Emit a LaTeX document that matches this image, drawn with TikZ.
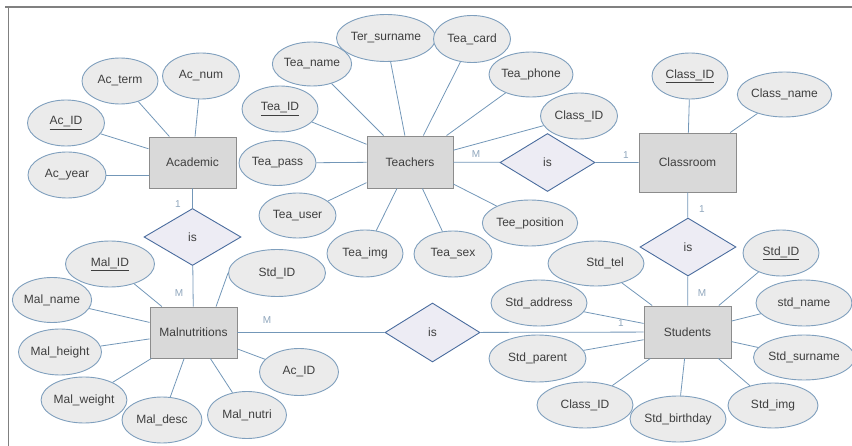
\documentclass[tikz,border=0pt]{standalone}
\usepackage{fontspec}
\setmainfont{Liberation Sans}
\usetikzlibrary{shapes.geometric}
\definecolor{attrfill}{HTML}{EBEBEB}
\definecolor{attrline}{HTML}{7F9FBD}
\definecolor{entfill}{HTML}{D9D9D9}
\definecolor{entline}{HTML}{8C8C8C}
\definecolor{relfill}{HTML}{EDECF4}
\definecolor{relline}{HTML}{4A6C9E}
\definecolor{linkcol}{HTML}{7397B8}
\definecolor{cardcol}{HTML}{8FA6BC}
\definecolor{txtgray}{HTML}{3F3F3F}
\begin{document}
\begin{tikzpicture}[x=1pt,y=-1pt,
   font=\fontsize{12}{14}\selectfont,text=txtgray,
   ent/.style={rectangle,draw=entline,fill=entfill,line width=0.9pt,inner sep=0pt},
   attr/.style={ellipse,draw=attrline,fill=attrfill,line width=0.9pt,inner sep=0pt},
   rel/.style={diamond,draw=relline,fill=relfill,line width=0.9pt,inner sep=0pt},
   link/.style={draw=linkcol,line width=0.8pt},
   card/.style={text=cardcol,font=\fontsize{10}{12}\selectfont,inner sep=0pt}]
   \useasboundingbox (0,0) rectangle (852,446);
   % 枠
   \draw[gray,line width=1.5pt] (5,7) -- (852,7);
   \draw[gray,line width=1.5pt] (8.5,7) -- (8.5,446);

   % 実体
   \node[ent,minimum width=87,minimum height=51] (acad) at (192.5,162.5) {Academic};
   \node[ent,minimum width=86,minimum height=52] (teach) at (410,162) {Teachers};
   \node[ent,minimum width=97,minimum height=59] (clsroom) at (687.5,162.5) {Classroom};
   \node[ent,minimum width=87,minimum height=51] (maln) at (193.5,332.5) {Malnutritions};
   \node[ent,minimum width=87,minimum height=52] (stud) at (687.5,332) {Students};

   % 関連
   \node[rel,minimum width=97,minimum height=57] (isac) at (192.5,237) {is};
   \node[rel,minimum width=95,minimum height=58] (istc) at (547.5,162.5) {is};
   \node[rel,minimum width=95,minimum height=59] (ismal) at (432.5,332.5) {is};
   \node[rel,minimum width=96,minimum height=58] (isstd) at (688,247) {is};

   % 属性 (Academic)
   \node[attr,minimum width=76,minimum height=46] (acterm) at (120,81) {Ac\_term};
   \node[attr,minimum width=77,minimum height=46] (acnum) at (201,76) {Ac\_num};
   \node[attr,minimum width=77,minimum height=46] (acid) at (66,123) {\underline{Ac\_ID}};
   \node[attr,minimum width=78,minimum height=46] (acyear) at (67,175) {Ac\_year};

   % 属性 (Teachers)
   \node[attr,minimum width=78,minimum height=44] (teaname) at (312,64) {Tea\_name};
   \node[attr,minimum width=88,minimum height=47] (tersur) at (386,38) {Ter\_surname};
   \node[attr,minimum width=77,minimum height=47] (teacard) at (472,39) {Tea\_card};
   \node[attr,minimum width=76,minimum height=45] (teaphone) at (531,74.5) {Tea\_phone};
   \node[attr,minimum width=77,minimum height=46] (teaclass) at (579,116) {Class\_ID};
   \node[attr,minimum width=76,minimum height=46] (teaid) at (280,109) {\underline{Tea\_ID}};
   \node[attr,minimum width=77,minimum height=45] (teapass) at (277.5,163) {Tea\_pass};
   \node[attr,minimum width=77,minimum height=45] (teauser) at (297.5,215.5) {Tea\_user};
   \node[attr,minimum width=76,minimum height=47] (teaimg) at (365,253.5) {Tea\_img};
   \node[attr,minimum width=78,minimum height=46] (teasex) at (453,254) {Tea\_sex};
   \node[attr,minimum width=94,minimum height=46] (teepos) at (530,223) {Tee\_position};

   % 属性 (Classroom)
   \node[attr,minimum width=76,minimum height=46] (clsid) at (690,76) {\underline{Class\_ID}};
   \node[attr,minimum width=91,minimum height=45] (clsname) at (784.5,94.5) {Class\_name};

   % 属性 (Malnutritions)
   \node[attr,minimum width=89,minimum height=46] (malid) at (110,264) {\underline{Mal\_ID}};
   \node[attr,minimum width=77,minimum height=45] (malname) at (52,300) {Mal\_name};
   \node[attr,minimum width=77,minimum height=46] (malheight) at (60,352) {Mal\_height};
   \node[attr,minimum width=84,minimum height=46] (malweight) at (84,400) {Mal\_weight};
   \node[attr,minimum width=80,minimum height=46] (maldesc) at (162,420) {Mal\_desc};
   \node[attr,minimum width=79,minimum height=47] (malnutri) at (247,415) {Mal\_nutri};
   \node[attr,minimum width=79,minimum height=47] (malac) at (299,372) {Ac\_ID};
   \node[attr,minimum width=97,minimum height=47] (malstd) at (277,273) {Std\_ID};

   % 属性 (Students)
   \node[attr,minimum width=96,minimum height=45] (stdtel) at (596,263.5) {\hspace*{18pt}Std\_tel};
   \node[attr,minimum width=96,minimum height=46] (stdaddr) at (539,303) {Std\_address};
   \node[attr,minimum width=97,minimum height=47] (stdparent) at (537.5,358.5) {Std\_parent};
   \node[attr,minimum width=96,minimum height=46] (stdclass) at (585,405) {Class\_ID};
   \node[attr,minimum width=96,minimum height=46] (stdbirth) at (678,419) {Std\_birthday};
   \node[attr,minimum width=90,minimum height=45] (stdimg) at (773,405.5) {Std\_img};
   \node[attr,minimum width=90,minimum height=45] (stdsur) at (804,357.5) {Std\_surname};
   \node[attr,minimum width=96,minimum height=46] (stdname) at (804,303) {std\_name};
   \node[attr,minimum width=76,minimum height=46] (stdid) at (781,253) {\underline{Std\_ID}};

   % 線
   \draw[link] (acad) -- (acterm);
   \draw[link] (acad) -- (acnum);
   \draw[link] (acad) -- (acid);
   \draw[link] (acyear) -- (acyear -| acad.west);
   \draw[link] (teach) -- (teaname);
   \draw[link] (teach) -- (tersur);
   \draw[link] (teach) -- (teacard);
   \draw[link] (teach) -- (teaphone);
   \draw[link] (teach) -- (teaclass);
   \draw[link] (teach) -- (teaid);
   \draw[link] (teach) -- (teapass);
   \draw[link] (teach) -- (teauser);
   \draw[link] (teach) -- (teaimg);
   \draw[link] (teach) -- (teasex);
   \draw[link] (teach) -- (teepos);
   \draw[link] (clsroom) -- (clsid);
   \draw[link] (clsroom) -- (clsname);
   \draw[link] (maln) -- (malid);
   \draw[link] (maln) -- (malname);
   \draw[link] (maln) -- (malheight);
   \draw[link] (maln) -- (malweight);
   \draw[link] (maln) -- (maldesc);
   \draw[link] (maln) -- (malnutri);
   \draw[link] (maln) -- (malac);
   \draw[link] (maln.49) -- (malstd.west);
   \draw[link] (stud) -- (stdtel);
   \draw[link] (stud) -- (stdaddr);
   \draw[link] (stud) -- (stdparent);
   \draw[link] (stud) -- (stdclass);
   \draw[link] (stud) -- (stdbirth);
   \draw[link] (stud) -- (stdimg);
   \draw[link] (stud) -- (stdsur);
   \draw[link] (stud) -- (stdname);
   \draw[link] (stud) -- (stdid);

   \draw[link] (acad) -- (isac) -- (maln);
   \draw[link] (teach) -- (istc) -- (clsroom);
   \draw[link] (maln) -- (ismal) -- (stud);
   \draw[link] (clsroom) -- (isstd) -- (stud);

   % 多重度
   \node[card] (c1) at (178,204) {1};
   \node[card] (c2) at (179,293) {M};
   \node[card] (c3) at (476,154) {M};
   \node[card] (c4) at (626,155) {1};
   \node[card] (c5) at (702,209) {1};
   \node[card] (c6) at (702,293) {M};
   \node[card] (c7) at (267,320) {M};
   \node[card] (c8) at (621,323) {1};
\end{tikzpicture}
\end{document}
